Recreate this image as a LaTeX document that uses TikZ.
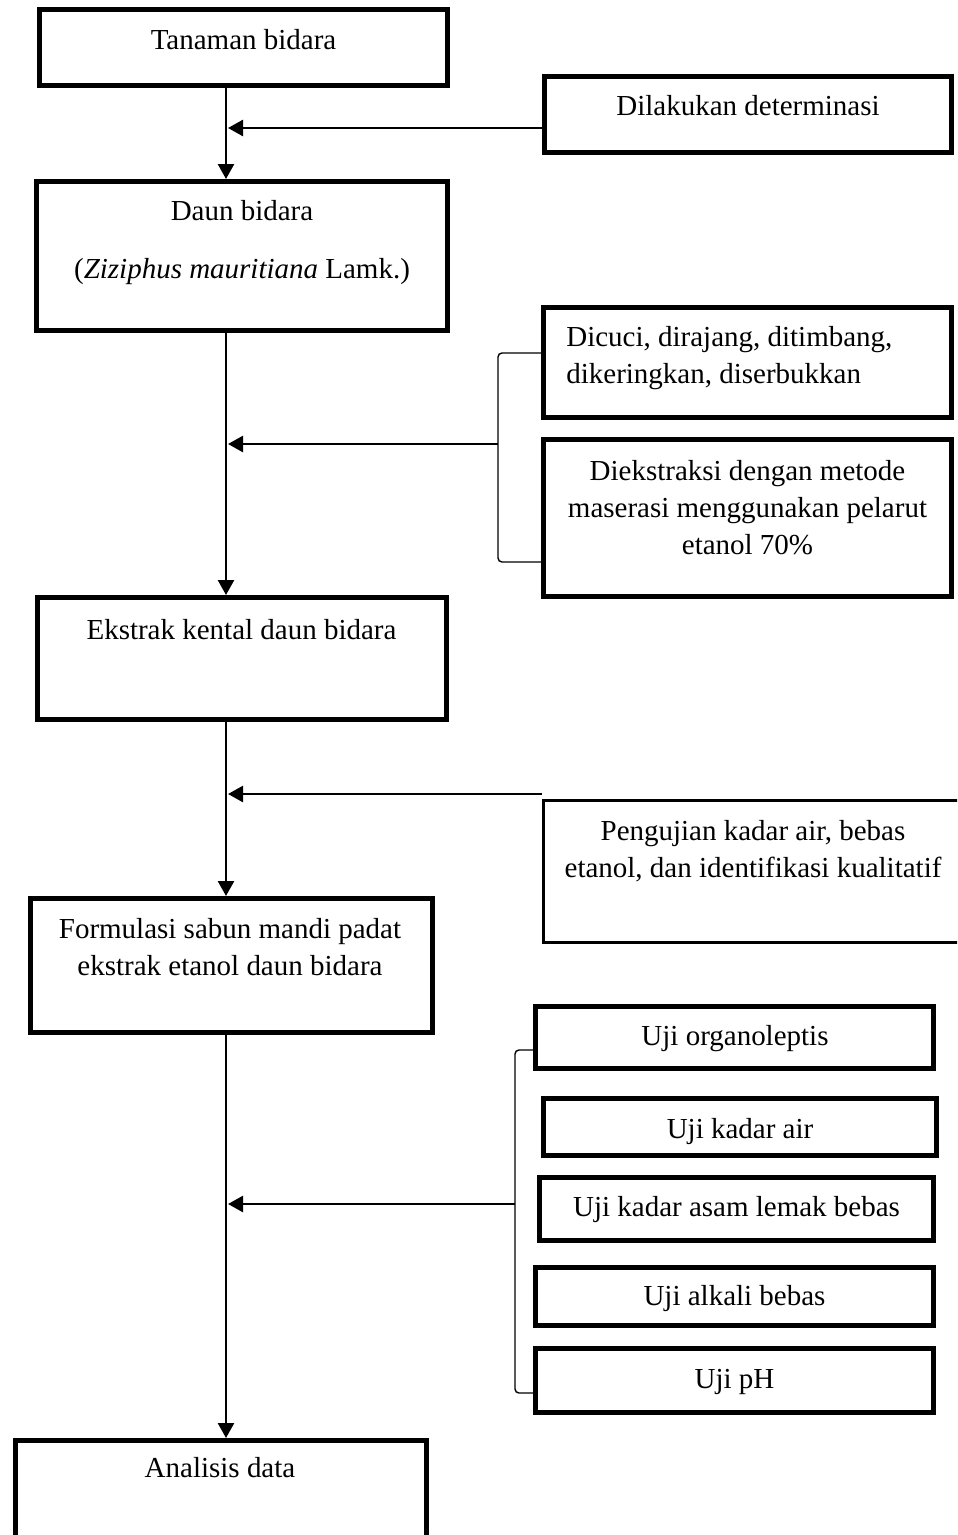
\documentclass[tikz,border=0pt]{standalone}
\usepackage{fontspec}
\setmainfont{Liberation Serif}
\usetikzlibrary{arrows.meta}

\begin{document}
\begin{tikzpicture}[x=0.02cm, y=-0.02cm,
  box/.style={draw, line width=0.1cm, anchor=north west, inner sep=0pt},
  openbox/.style={draw, line width=0.05cm, anchor=north west, inner sep=0pt},
  txt/.style={inner sep=0pt, font=\fontsize{16.5}{21}\selectfont},
  flow/.style={line width=0.05cm, -{Triangle[length=0.3cm, width=0.32cm]}},
  brace/.style={line width=0.8pt, rounded corners=0.08cm}]
   \useasboundingbox (0,0) rectangle (957,1535);
   \clip (0,0) rectangle (957,1535);
   \node[box, minimum width=8.16cm, minimum height=1.52cm] (tanaman) at (37,7) {};
   \node[box, minimum width=8.14cm, minimum height=1.52cm] (dilakukan) at (542,74) {};
   \node[box, minimum width=8.22cm, minimum height=2.98cm] (daun) at (34,179) {};
   \node[box, minimum width=8.16cm, minimum height=2.2cm] (dicuci) at (541,305) {};
   \node[box, minimum width=8.16cm, minimum height=3.14cm] (diekstraksi) at (541,437) {};
   \node[box, minimum width=8.18cm, minimum height=2.44cm] (ekstrak) at (35,595) {};
   \node[openbox, minimum width=9.1cm, minimum height=2.85cm] (pengujian) at (542,799) {};
   \node[box, minimum width=8.04cm, minimum height=2.68cm] (formulasi) at (28,896) {};
   \node[box, minimum width=7.96cm, minimum height=1.24cm] (organoleptis) at (533,1004) {};
   \node[box, minimum width=7.86cm, minimum height=1.14cm] (kadarair) at (541,1096) {};
   \node[box, minimum width=7.88cm, minimum height=1.26cm] (asamlemak) at (537,1175) {};
   \node[box, minimum width=7.96cm, minimum height=1.16cm] (alkali) at (533,1265) {};
   \node[box, minimum width=7.96cm, minimum height=1.28cm] (ph) at (533,1346) {};
   \node[box, minimum width=8.22cm, minimum height=4cm] (analisis) at (13,1438) {};
   \node[txt, anchor=base] (tanaman-t) at (243.5,49) {Tanaman bidara};
   \node[txt, anchor=base] (dilakukan-t) at (748,115) {Dilakukan determinasi};
   \node[txt, anchor=north, align=center] (daun-t) at (242,200)
     {Daun bidara\\[12pt](\textit{Ziziphus mauritiana} Lamk.)};
   \node[txt, anchor=north west, align=left] (dicuci-t) at (566,326)
     {Dicuci, dirajang, ditimbang,\\dikeringkan, diserbukkan};
   \node[txt, anchor=north, align=center] (diekstraksi-t) at (747.5,460)
     {Diekstraksi dengan metode\\maserasi menggunakan pelarut\\etanol 70\%};
   \node[txt, anchor=base] (ekstrak-t) at (241.5,639) {Ekstrak kental daun bidara};
   \node[txt, anchor=north, align=center] (pengujian-t) at (753,820)
     {Pengujian kadar air, bebas\\etanol, dan identifikasi kualitatif};
   \node[txt, anchor=north, align=center] (formulasi-t) at (230,918)
     {Formulasi sabun mandi padat\\ekstrak etanol daun bidara};
   \node[txt, anchor=base] (organoleptis-t) at (735,1045) {Uji organoleptis};
   \node[txt, anchor=base] (kadarair-t) at (740,1138) {Uji kadar air};
   \node[txt, anchor=base] (asamlemak-t) at (736.5,1216) {Uji kadar asam lemak bebas};
   \node[txt, anchor=base] (alkali-t) at (734.5,1305) {Uji alkali bebas};
   \node[txt, anchor=base] (ph-t) at (734.5,1388) {Uji pH};
   \node[txt, anchor=base] (analisis-t) at (220,1477) {Analisis data};
   \coordinate (axis) at (226,0);
   \coordinate (j1) at (228,128);
   \coordinate (j2) at (228,444);
   \coordinate (j3) at (228,794);
   \coordinate (j4) at (228,1204);
   \coordinate (b1) at (498,444);
   \coordinate (b2) at (515,1204);
   \draw[flow] (tanaman.south -| axis) -- (daun.north -| axis);
   \draw[flow] (daun.south -| axis) -- (ekstrak.north -| axis);
   \draw[flow] (ekstrak.south -| axis) -- (formulasi.north -| axis);
   \draw[flow] (formulasi.south -| axis) -- (analisis.north -| axis);
   \draw[flow] (dilakukan.west |- j1) -- (j1);
   \draw[flow] (b1) -- (j2);
   \draw[flow] (pengujian.west |- j3) -- (j3);
   \draw[flow] (b2) -- (j4);
   \draw[brace] (dicuci.west |- 0,353) -| (b1) |- (diekstraksi.west |- 0,562);
   \draw[brace] (organoleptis.west |- 0,1050) -| (b2) |- (ph.west |- 0,1393);
\end{tikzpicture}
\end{document}
